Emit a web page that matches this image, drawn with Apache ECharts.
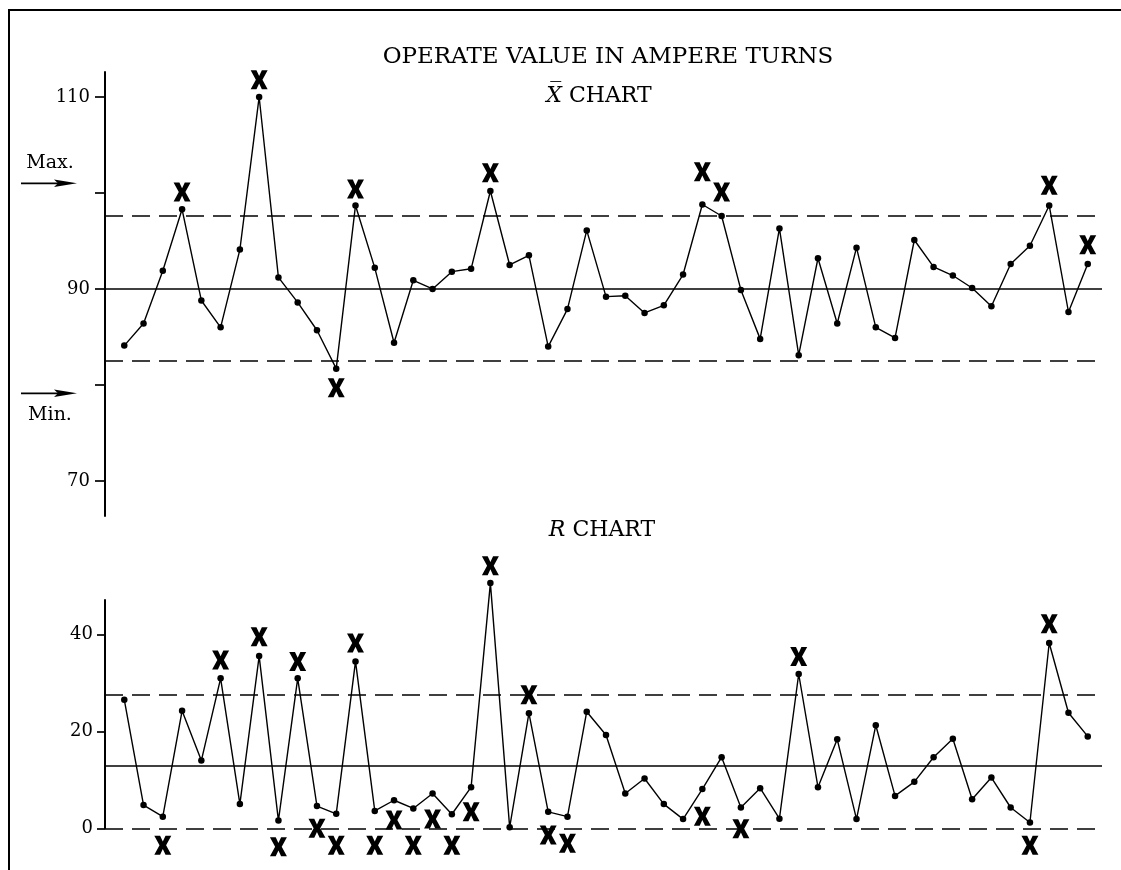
<!DOCTYPE html>
<html>
<head>
<meta charset="utf-8">
<script src="https://cdn.jsdelivr.net/npm/echarts@6/dist/echarts.min.js"></script>
<style>
html,body{margin:0;padding:0;background:#fff;}
#chart{width:1121px;height:870px;}
</style>
</head>
<body>
<div id="chart"></div>
<script>
// ---- data ----
const sampleNumbers = [1,2,3,4,5,6,7,8,9,10,11,12,13,14,15,16,17,18,19,20,21,22,23,24,25,26,27,28,29,30,31,32,33,34,35,36,37,38,39,40,41,42,43,44,45,46,47,48,49,50,51];

const xbarValues = [84.1, 86.4, 91.9, 98.3, 88.8, 86.0, 94.1, 110.0, 91.2, 88.6,
                    85.7, 81.7, 98.7, 92.2, 84.4, 90.9, 90.0, 91.8, 92.1, 100.2,
                    92.5, 93.5, 84.0, 87.9, 96.1, 89.2, 89.3, 87.5, 88.3, 91.5,
                    98.8, 97.6, 89.9, 84.8, 96.3, 83.1, 93.2, 86.4, 94.3, 86.0,
                    84.9, 95.1, 92.3, 91.4, 90.1, 88.2, 92.6, 94.5, 98.7, 87.6, 92.6];

const rangeValues = [26.6, 4.8, 2.4, 24.3, 14.0, 31.0, 5.0, 35.6, 1.6, 31.0,
                     4.6, 3.0, 34.5, 3.6, 5.8, 4.1, 7.2, 2.9, 8.5, 50.7,
                     0.2, 23.8, 3.4, 2.4, 24.1, 19.3, 7.2, 10.3, 5.0, 1.9,
                     8.1, 14.7, 4.3, 8.3, 2.0, 31.9, 8.5, 18.4, 1.9, 21.3,
                     6.7, 9.6, 14.7, 18.5, 6.0, 10.5, 4.3, 1.2, 38.3, 23.9, 19.0];

// control lines: lower limit, centre line, upper limit
const xbarControl = [82.5, 90.0, 97.6];
const rangeControl = [0, 13.0, 27.6];

// "X" flags (sample number, value where the flag is written)
const xbarFlagPoints = [4, 8, 12, 13, 20, 31, 32, 49, 51];
const xbarFlagValues = [100.1, 111.8, 79.7, 100.4, 102.1, 102.2, 100.1, 100.8, 94.6];
const rangeFlagPoints = [3, 6, 8, 9, 10, 11, 12, 13, 14, 15, 16, 17, 18, 19, 20, 22, 23, 24, 31, 33, 36, 48, 49];
const rangeFlagValues = [-3.5, 34.8, 39.6, -3.8, 34.5, 0.0, -3.5, 38.3, -3.5, 1.7, -3.5, 1.9, -3.5, 3.4, 54.3, 27.6, -1.4, -3.1, 2.5, -0.1, 35.5, -3.5, 42.3];

// axis ticks and labels
const xbarTicks = [70, 80, 90, 100, 110];
const xbarTickLabels = [70, 90, 110];
const rangeTicks = [0, 20, 40];
const rangeTickLabels = [0, 20, 40];

// ---- chart ----
const SERIF = '"DejaVu Serif", "Liberation Serif", serif';
const X_SYMBOL = 'path://M0,0L5.8,0L8.5,5.8L11.2,0L17,0L11.8,9.5L17,19L11.2,19L8.5,13.2L5.8,19L0,19L5.2,9.5Z';

function pairs(xs, ys) { return xs.map((x, i) => [x, ys[i]]); }

function controlLines(vals) {
  return {
    silent: true,
    symbol: 'none',
    label: { show: false },
    data: [
      { yAxis: vals[0], lineStyle: { type: [18, 9], width: 1.7, color: '#000' } },
      { yAxis: vals[1], lineStyle: { type: 'solid', width: 1.7, color: '#000' } },
      { yAxis: vals[2], lineStyle: { type: [18, 9], width: 1.7, color: '#000' } }
    ]
  };
}

function yAxisCfg(grid, min, max, ticks, labels, tickLen, margin) {
  return {
    gridIndex: grid, type: 'value', min: min, max: max,
    axisLine: { show: true, lineStyle: { color: '#000', width: 2 } },
    axisTick: { show: true, length: tickLen, customValues: ticks, lineStyle: { color: '#000', width: 1.7 } },
    axisLabel: { customValues: labels, color: '#000', fontFamily: SERIF, fontSize: 18, margin: margin,
                 verticalAlign: 'middle', padding: [0, 0, 8, 0] },
    splitLine: { show: false }
  };
}

const chart = echarts.init(document.getElementById('chart'), null, { renderer: 'canvas' });

const option = {
  backgroundColor: '#fff',
  animation: false,
  grid: [
    { left: 105, right: 19, top: 72, height: 444 },
    { left: 105, right: 19, top: 600, height: 228.3 }
  ],
  xAxis: [
    { gridIndex: 0, type: 'value', min: 0, max: 51.74, show: false },
    { gridIndex: 1, type: 'value', min: 0, max: 51.74, show: false }
  ],
  yAxis: [
    yAxisCfg(0, 66.35, 112.6, xbarTicks, xbarTickLabels, 10, 15),
    yAxisCfg(1, 0, 47.2, rangeTicks, rangeTickLabels, 8, 12)
  ],
  series: [
    {
      name: 'X-bar', type: 'line', xAxisIndex: 0, yAxisIndex: 0,
      data: pairs(sampleNumbers, xbarValues),
      symbol: 'circle', symbolSize: 6.5,
      itemStyle: { color: '#000', opacity: 1 },
      lineStyle: { color: '#000', width: 1.4 },
      markLine: controlLines(xbarControl),
      z: 3
    },
    {
      name: 'R', type: 'line', xAxisIndex: 1, yAxisIndex: 1,
      data: pairs(sampleNumbers, rangeValues),
      symbol: 'circle', symbolSize: 6.5,
      itemStyle: { color: '#000', opacity: 1 },
      lineStyle: { color: '#000', width: 1.4 },
      markLine: controlLines(rangeControl),
      clip: false,
      z: 3
    },
    {
      name: 'X-bar flags', type: 'scatter', xAxisIndex: 0, yAxisIndex: 0,
      data: pairs(xbarFlagPoints, xbarFlagValues),
      symbol: X_SYMBOL, symbolSize: [17, 19], symbolKeepAspect: false,
      itemStyle: { color: '#000', opacity: 1 }, clip: false, z: 4
    },
    {
      name: 'R flags', type: 'scatter', xAxisIndex: 1, yAxisIndex: 1,
      data: pairs(rangeFlagPoints, rangeFlagValues),
      symbol: X_SYMBOL, symbolSize: [17, 19], symbolKeepAspect: false,
      itemStyle: { color: '#000', opacity: 1 }, clip: false, z: 4
    }
  ],
  graphic: [
    // frame
    { type: 'polyline', shape: { points: [[9, 870], [9, 10], [1121, 10]] }, style: { stroke: '#000', lineWidth: 2, fill: null } },
    // titles
    { type: 'text', x: 608, y: 57, style: { text: 'OPERATE VALUE IN AMPERE TURNS', textAlign: 'center', textVerticalAlign: 'middle', font: '23px ' + SERIF, fill: '#000' } },
    { type: 'text', x: 599, y: 96, style: {
        text: '{i|X\u0305} CHART', textAlign: 'center', textVerticalAlign: 'middle', font: '22px ' + SERIF, fill: '#000',
        rich: { i: { fontStyle: 'italic', fontFamily: SERIF, fontSize: 22, fill: '#000' } } } },
    { type: 'text', x: 602, y: 530, style: {
        text: '{i|R} CHART', textAlign: 'center', textVerticalAlign: 'middle', font: '22px ' + SERIF, fill: '#000',
        rich: { i: { fontStyle: 'italic', fontFamily: SERIF, fontSize: 22, fill: '#000' } } } },
    // Max. arrow
    { type: 'text', x: 50, y: 163, style: { text: 'Max.', textAlign: 'center', textVerticalAlign: 'middle', font: '19px ' + SERIF, fill: '#000' } },
    { type: 'line', shape: { x1: 21, y1: 183.3, x2: 62, y2: 183.3 }, style: { stroke: '#000', lineWidth: 1.7 } },
    { type: 'polygon', shape: { points: [[54, 179.5], [77, 183.3], [54, 187.1], [58, 183.3]] }, style: { fill: '#000' } },
    // Min. arrow
    { type: 'line', shape: { x1: 21, y1: 393.3, x2: 62, y2: 393.3 }, style: { stroke: '#000', lineWidth: 1.7 } },
    { type: 'polygon', shape: { points: [[54, 389.5], [77, 393.3], [54, 397.1], [58, 393.3]] }, style: { fill: '#000' } },
    { type: 'text', x: 50, y: 415, style: { text: 'Min.', textAlign: 'center', textVerticalAlign: 'middle', font: '19px ' + SERIF, fill: '#000' } }
  ]
};

chart.setOption(option);
</script>
</body>
</html>
